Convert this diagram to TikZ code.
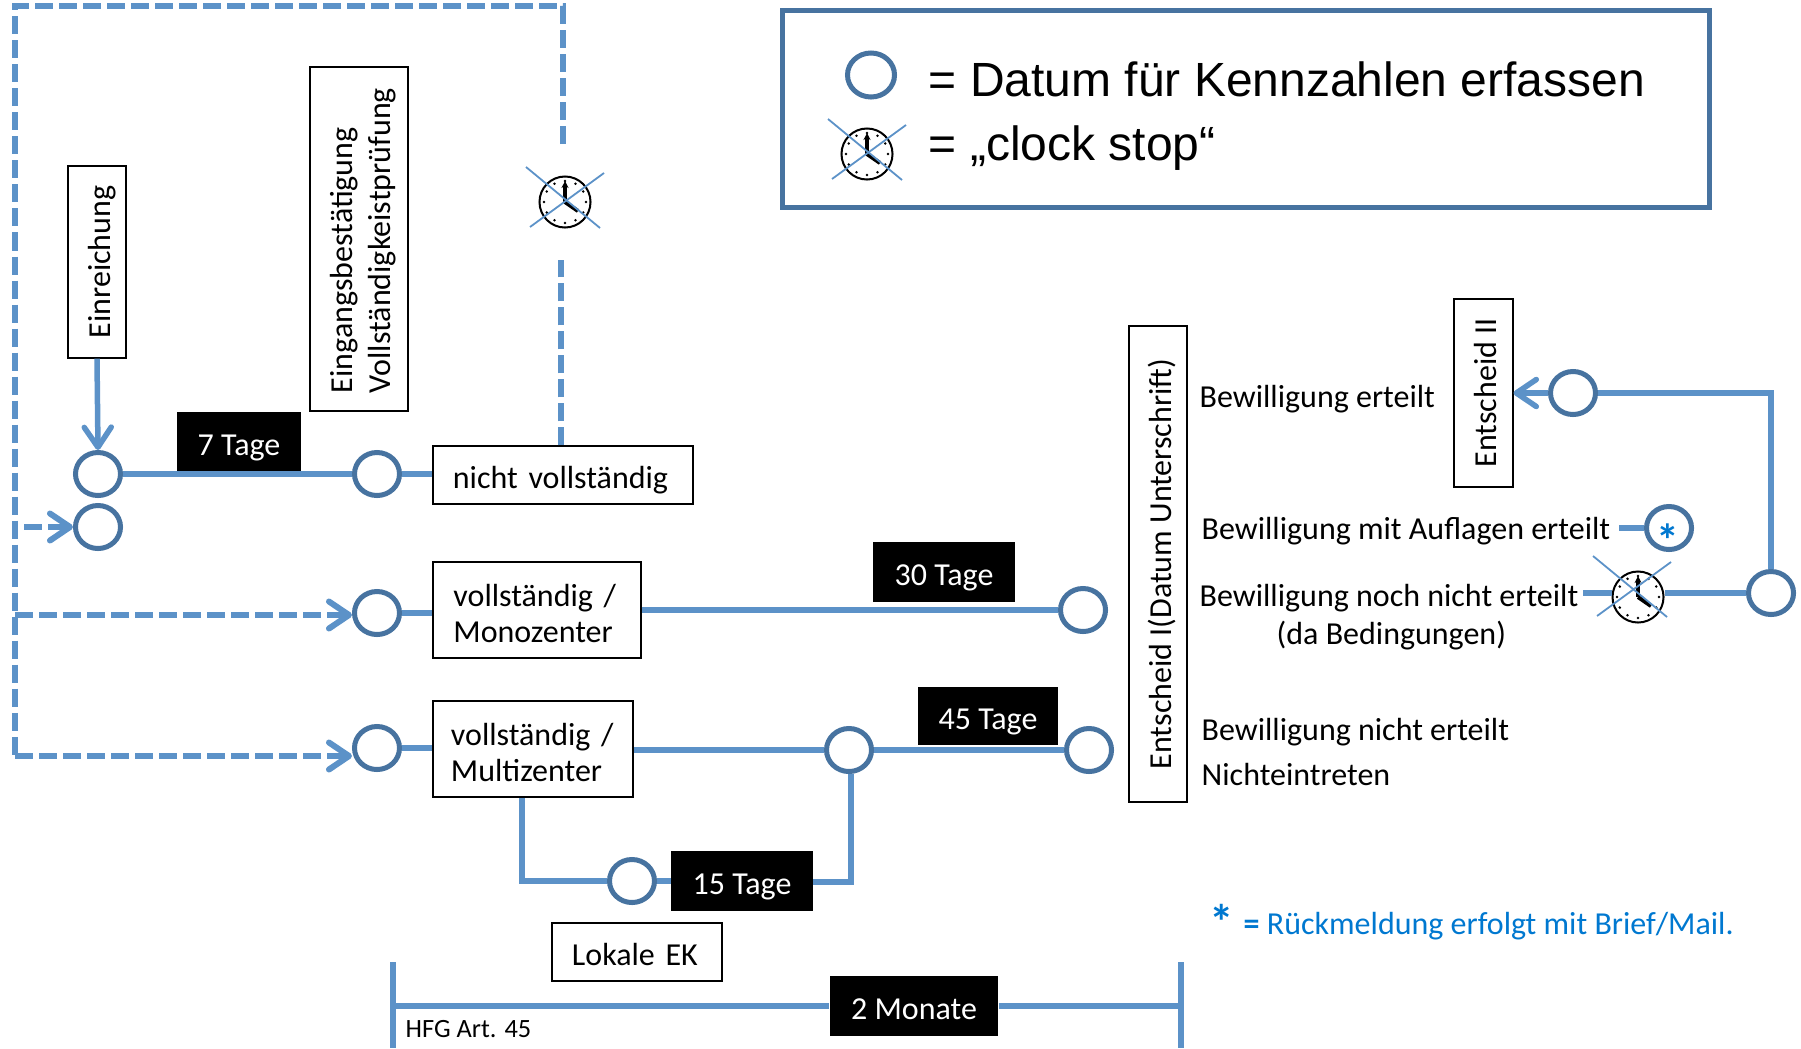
\documentclass[tikz,border=0pt]{standalone}
\usepackage{fontspec}
\setmainfont{Carlito}
\newfontfamily\legendfont{Liberation Sans}
\usetikzlibrary{shapes,arrows.meta,positioning,calc}
\definecolor{flowblue}{RGB}{92,146,200}
\definecolor{ringblue}{RGB}{71,115,160}
\definecolor{noteblue}{RGB}{0,120,208}

\tikzset{
  >={Straight Barb[round,length=0.2cm,width=0.27cm]},
  flow/.style={draw=flowblue,line width=0.055cm},
  flowdash/.style={flow,line width=0.06cm,dash pattern=on 0.18cm off 0.06cm},
  ring/.style={draw=ringblue,fill=white,ellipse,line width=0.05cm,minimum width=0.45cm,minimum height=0.43cm,inner sep=0pt},
  textbase/.style={font=\fontsize{9.1}{10.7}\selectfont,text height=9.8pt,text depth=2pt},
  textblock/.style={font=\fontsize{9.1}{10.7}\selectfont,text height=8.7pt,align=left},
  textpair/.style={font=\fontsize{9.1}{10.4}\selectfont,text height=8.2pt,align=left},
  box/.style={draw=black,fill=white,line width=0.02cm,inner ysep=0pt,inner xsep=0.2cm},
  daybox/.style={fill=black,text=white,inner sep=0pt,textbase},
  label/.style={inner sep=0pt,anchor=west,textbase,text height=8.8pt},
  legendtext/.style={inner sep=0pt,anchor=west,font=\legendfont\fontsize{13.65}{16}\selectfont},
  clockface/.pic={
    \node[circle,draw=black,fill=white,line width=0.02cm,minimum size=0.51cm,inner sep=0pt] (face) at (0,0) {};
    \foreach \a in {0,30,...,330}
      \fill (\a:21) circle (0.014cm);
    \draw[black,line width=0.035cm,-{Stealth[length=0.07cm,width=0.07cm]}] (0,0) -- (0,-21);
    \draw[black,line width=0.04cm] (0,0) -- (13,9);
  },
  clockcross/.pic={
    \draw[flowblue,line width=0.018cm] (-39,-35) -- (35,26);
    \draw[flowblue,line width=0.018cm] (-35,25) -- (39,-29);
  }
}

\begin{document}
\begin{tikzpicture}[x=0.01cm,y=-0.01cm]
\useasboundingbox (0,0) rectangle (1801,1048);

% Legend
\node[draw=ringblue,line width=0.05cm,minimum width=9.26cm,minimum height=1.97cm,inner sep=0pt] (legend) at (1246,109) {};
\node[ring,minimum width=0.47cm,minimum height=0.44cm] (legendRing) at (871,75) {};
\pic (legendClock) at (867,154) {clockface};
\pic (legendCross) at (867,154) {clockcross};
\node[legendtext] (legendA) at (928,79) {= Datum für Kennzahlen erfassen};
\node[legendtext] (legendB) at (928,148) {= „clock stop“};

% Boxes
\node[box,textbase,rotate=90,minimum width=1.91cm,minimum height=0.58cm,inner xsep=0pt] (einreichung) at (97,262) {Einreichung};
\node[box,textblock,rotate=90,text width=3.08cm,inner xsep=0.18cm,minimum height=0.98cm] (eingang) at (359,239) {Eingangsbestätigung\\Vollständigkeistprüfung};
\node[box,textbase,text width=2.2cm,minimum height=0.57cm] (nichtvoll) at (563,475) {nicht vollständig};
\node[box,textpair,text width=1.67cm,minimum height=0.96cm] (mono) at (537,610) {vollständig /\\Monozenter};
\node[box,textpair,text width=1.64cm,inner xsep=0.18cm,minimum height=0.96cm] (multi) at (533,749) {vollständig /\\Multizenter};
\node[box,textbase,text width=1.3cm,minimum height=0.58cm] (lokal) at (637,952) {Lokale EK};
\node[box,textbase,rotate=90,minimum width=4.76cm,minimum height=0.58cm,inner xsep=0pt] (entscheidA) at (1158,564) {Entscheid I(Datum Unterschrift)};
\node[box,textbase,rotate=90,minimum width=1.88cm,minimum height=0.59cm,inner xsep=0pt] (entscheidB) at (1483,393) {Entscheid II};

% Rings
\node[ring] (start) at (98,474) {};
\node[ring] (restart) at (98,527) {};
\node[ring] (check) at (377,474) {};
\node[ring] (monoIn) at (377,613) {};
\node[ring] (multiIn) at (377,748) {};
\node[ring] (monoEnd) at (1083,610) {};
\node[ring] (multiMid) at (849,750) {};
\node[ring] (multiEnd) at (1089,750) {};
\node[ring] (lokalIn) at (632,881) {};
\node[ring] (second) at (1573,393) {};
\node[ring] (auflagen) at (1669,528) {};
\node[ring] (right) at (1771,593) {};

% Clock stops
\pic (stopA) at (565,202) {clockface};
\pic (crossA) at (565,202) {clockcross};
\pic (stopB) at (1638,597) {clockface};
\pic (crossB) at (1632,591) {clockcross};

% Connector ends
\coordinate (dashTL) at (15,6);
\coordinate (dashTR) at (563,6);
\coordinate (dashEnd) at (563,144);
\coordinate (dashBL) at (15,756);
\coordinate (dashMid) at (15,615);
\coordinate (dashStub) at (24,527);
\coordinate (dashRestart) at (561,260);
\coordinate (bendLokal) at (522,881);
\coordinate (bendDays) at (851,882);
\coordinate (bendRight) at (1771,393);
\coordinate (stubAuflagen) at (1619,528);
\coordinate (stubNoch) at (1583,593);

% Dashed return
\draw[flowdash] (dashEnd) -- (dashTR) -- (dashTL) -- (dashBL);
\draw[flowdash,->] (dashBL) -- (dashBL -| multiIn.west);
\draw[flowdash,->] (dashMid) -- (dashMid -| monoIn.west);
\draw[flowdash,->] (dashStub) -- (restart.west);
\draw[flowdash] (nichtvoll.north -| dashRestart) -- (dashRestart);

% Day labels
\node[daybox,minimum width=1.24cm,minimum height=0.6cm] (tage7) at (239,442) {7 Tage};
\node[daybox,minimum width=1.41cm,minimum height=0.59cm] (tage30) at (944,572) {30 Tage};
\node[daybox,minimum width=1.4cm,minimum height=0.58cm] (tage45) at (988,716) {45 Tage};
\node[daybox,minimum width=1.41cm,minimum height=0.6cm] (tage15) at (742,881) {15 Tage};

% Flow
\draw[flow,->] (einreichung.west) -- (start.north);
\draw[flow] (start) -- (check);
\draw[flow] (check) -- (check -| nichtvoll.west);
\draw[flow] (monoIn) -- (monoIn -| mono.west);
\draw[flow] (mono.east |- monoEnd) -- (monoEnd);
\draw[flow] (multiIn) -- (multiIn -| multi.west);
\draw[flow] (multi.east |- multiMid) -- (multiMid);
\draw[flow] (multiMid) -- (multiEnd);
\draw[flow] (multi.south -| bendLokal) -- (bendLokal) -- (lokalIn);
\draw[flow] (lokalIn) -- (tage15);
\draw[flow] (tage15.east |- bendDays) -- (bendDays) -- (multiMid.south -| bendDays);
\draw[flow,->] (second) -- (entscheidB.south |- second);
\draw[flow] (second) -- (bendRight) -- (right);
\draw[flow] (right) -- (right -| stopBface.east);
\draw[flow] (stubNoch) -- (stubNoch -| stopBface.west);
\draw[flow] (stubAuflagen) -- (auflagen);

% Bewilligung
\node[label] (erteilt) at (1199,396) {Bewilligung erteilt};
\node[label] (mitAuflagen) at (1201,528) {Bewilligung mit Auflagen erteilt};
\node[label] (noch) at (1199,595) {Bewilligung noch nicht erteilt};
\node[label] (bedingung) at (1276,633) {(da Bedingungen)};
\node[label] (nicht) at (1201,729) {Bewilligung nicht erteilt};
\node[label] (eintreten) at (1201,774) {Nichteintreten};
\node[inner sep=0pt,text=noteblue,font=\bfseries\fontsize{13}{13}\selectfont] (auflagenStar) at (1668,540) {*};

% Note
\node[inner sep=0pt,text=noteblue,font=\bfseries\fontsize{14}{14}\selectfont] (noteStar) at (1222,922) {*};
\node[label,text=noteblue] (noteText) at (1243,923) {\textbf{=} Rückmeldung erfolgt mit Brief/Mail.};

% HFG bar
\coordinate (barLtop) at (393,962);
\coordinate (barLbot) at (393,1048);
\coordinate (barRtop) at (1181,962);
\coordinate (barRbot) at (1181,1048);
\node[daybox,minimum width=1.68cm,minimum height=0.6cm] (monate) at (914,1006) {2 Monate};
\draw[flow] (barLtop) -- (barLbot);
\draw[flow] (barRtop) -- (barRbot);
\draw[flow] (barLtop |- monate) -- (monate);
\draw[flow] (monate) -- (barRtop |- monate);
\node[label,font=\fontsize{7.5}{8}\selectfont] (hfg) at (405,1026) {HFG Art. 45};

\end{tikzpicture}
\end{document}
